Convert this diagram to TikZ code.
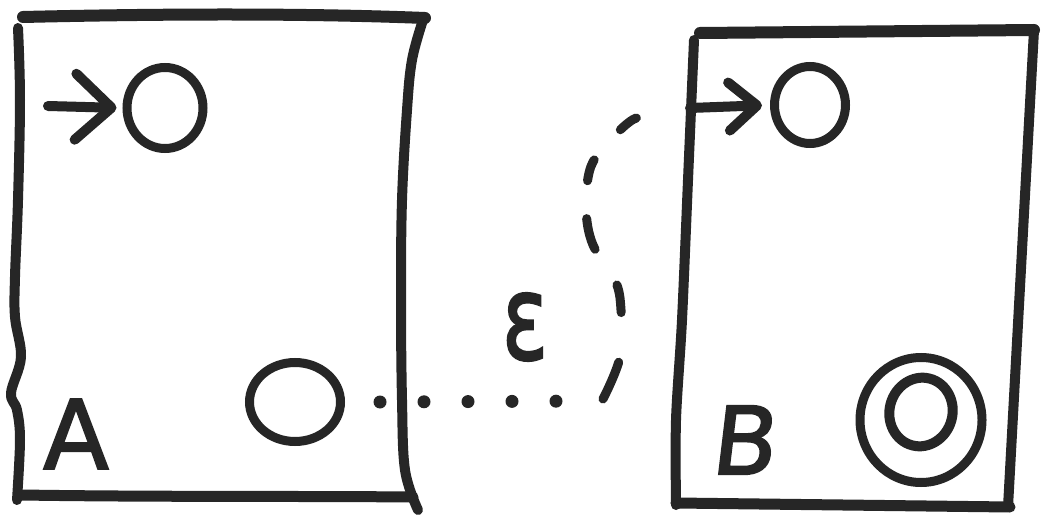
\documentclass[tikz,border=0pt]{standalone}
\usepackage{fontspec}
\setmainfont{DejaVu Sans}
\newfontfamily\handfont[FakeBold=2]{DejaVu Sans}
\newfontfamily\handslant[FakeBold=2,FakeSlant=0.12]{DejaVu Sans}
\usetikzlibrary{arrows.meta,shapes.geometric}
\definecolor{inkc}{HTML}{262626}
\begin{document}
\begin{tikzpicture}[x=1pt,y=-1pt,
  ink/.style={draw=inkc, line width=10pt, line cap=round, line join=round},
  state/.style={ellipse, draw=inkc, line width=9pt, inner sep=0pt},
  lbl/.style={font=\handfont\fontsize{96}{96}\selectfont, text=inkc, inner sep=0pt},
  startA/.style={ink, -{Straight Barb[length=36pt,width=66pt,round]}},
  startB/.style={ink, -{Straight Barb[length=28pt,width=48pt,round]}},
  dotline/.style={draw=inkc, line width=13pt, line cap=round, dash pattern=on 0pt off 44pt},
  dashline/.style={draw=inkc, line width=9pt, line cap=round,
    dash pattern=on 40pt off 50pt on 28pt off 42pt on 32pt off 38pt on 22pt off 40pt on 20pt off 60pt},
]
\useasboundingbox[fill=white] (0,0) rectangle (1046,529);

% box A
\draw[ink, line width=12pt] (23,17) .. controls (150,14) and (300,13) .. (425,18);
\draw[ink] plot[smooth, tension=0.6] coordinates {(18,28) (20,100) (18,200) (15,277) (15,317) (21,357) (11,393) (17,410) (20,440) (17,500)};
\draw[ink, line width=11pt] (22,495) .. controls (150,497) and (300,496) .. (413,497);
\draw[ink] plot[smooth, tension=0.6] coordinates {(423,20) (412,60) (407,110) (402,200) (401,300) (402,400) (405,470) (418,510)};

% box B
\draw[ink, line width=12pt] (700,33) -- (1034,30);
\draw[ink] plot[smooth, tension=0.5] coordinates {(694,40) (688,180) (682,320) (676,420) (676,505)};
\draw[ink, line width=11pt] (676,503) -- (1010,507);
\draw[ink] (1034,30) -- (1008,507);

% states
\node[state, minimum width=76pt, minimum height=81pt] (A1) at (165,108) {};
\node[state, minimum width=91pt, minimum height=79pt] (A2) at (295,402) {};
\node[state, minimum width=71pt, minimum height=77pt] (B1) at (810,105) {};
\node[state, minimum width=122pt, minimum height=125pt] (B2) at (921,420) {};
\node[state, line width=10pt, minimum width=63pt, minimum height=69pt, rotate=-15] (B2i) at (921,412) {};

% start arrows
\coordinate (As) at (48,106);
\draw[startA, shorten >=6pt] (As) -- (A1.west);
\coordinate (Be) at (690,108);
\draw[startB, shorten >=8pt] (Be) -- (B1.west);

% epsilon transition
\coordinate (c1) at (596,401);
\coordinate (c2) at (603,399);
\draw[dotline] ([xshift=35pt]A2.east) -- (c1);
\draw[dashline] plot[smooth, tension=0.6] coordinates {(c2) (620,357) (621,310) (615,280) (593,245) (586,210) (589,173) (600,152) (628,123) (648,115) (Be)};

% labels
\node[lbl] (LA) at (76,434) {A};
\node[lbl, font=\handslant\fontsize{94}{94}\selectfont] (LB) at (742,440) {B};
\node[lbl, font=\handfont\fontsize{118}{118}\selectfont] (LE) at (525,327) {\scalebox{0.72}[1]{ε}};
\end{tikzpicture}
\end{document}
